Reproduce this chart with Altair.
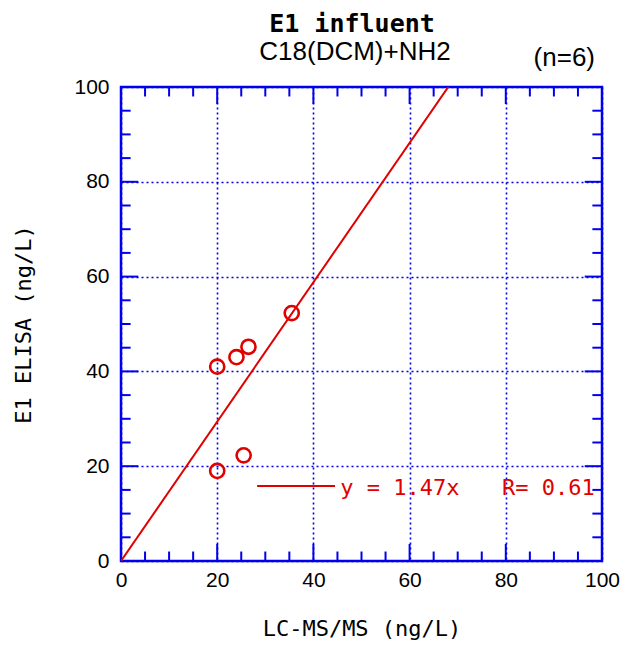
import altair as alt
import pandas as pd

# data
lcms = [20.0, 20.0, 24.0, 26.5, 25.5, 35.5]
elisa = [41.0, 19.0, 43.0, 45.2, 22.3, 52.3]
slope = 1.47
r_value = 0.61
minor_ticks = [5, 10, 15, 25, 30, 35, 45, 50, 55, 65, 70, 75, 85, 90, 95]
major_ticks = [20, 40, 60, 80]
axis_values = [0, 20, 40, 60, 80, 100]

BLUE = "#0000ee"
RED = "#e00000"
MONO = "DejaVu Sans Mono"
SANS = "Liberation Sans"

pts = pd.DataFrame({"x": lcms, "y": elisa})
fit = pd.DataFrame({"x": [0, 100], "y": [0, slope * 100]})

xs = alt.Scale(domain=[0, 100], nice=False, zero=False)
ys = alt.Scale(domain=[0, 100], nice=False, zero=False)

xax = alt.Axis(values=axis_values, grid=True, gridColor=BLUE, gridDash=[2, 3], gridWidth=1.6,
               ticks=False, tickSize=0, domain=False, labelFont=SANS, labelFontSize=21,
               labelColor="#000", labelPadding=8, title="LC-MS/MS (ng/L)", titleFont=MONO,
               titleFontSize=22, titleFontWeight="normal", titleColor="#000", titlePadding=28,
               labelFlush=False)
yax = alt.Axis(values=axis_values, grid=True, gridColor=BLUE, gridDash=[2, 3], gridWidth=1.6,
               ticks=False, tickSize=0, domain=False, labelFont=SANS, labelFontSize=21,
               labelColor="#000", labelPadding=12, title="E1 ELISA (ng/L)", titleFont=MONO,
               titleFontSize=22, titleFontWeight="normal", titleColor="#000", titlePadding=38,
               labelFlush=False)

base_axes = alt.Chart(pts).mark_point(opacity=0).encode(
    x=alt.X("x:Q", scale=xs, axis=xax), y=alt.Y("y:Q", scale=ys, axis=yax))

# inward ticks
Lmin, Lmaj = 2.0, 3.6
rows = []
for v in minor_ticks + major_ticks:
    L = Lmaj if v in major_ticks else Lmin
    rows.append({"x": v, "x2": v, "y": 0, "y2": L})
    rows.append({"x": v, "x2": v, "y": 100, "y2": 100 - L})
    rows.append({"x": 0, "x2": L, "y": v, "y2": v})
    rows.append({"x": 100, "x2": 100 - L, "y": v, "y2": v})
ticks_df = pd.DataFrame(rows)
ticks = alt.Chart(ticks_df).mark_rule(color=BLUE, strokeWidth=2).encode(
    x=alt.X("x:Q", scale=xs), x2="x2", y=alt.Y("y:Q", scale=ys), y2="y2")

line = alt.Chart(fit).mark_line(color=RED, strokeWidth=2, clip=True).encode(
    x=alt.X("x:Q", scale=xs), y=alt.Y("y:Q", scale=ys))

points = alt.Chart(pts).mark_point(shape="circle", filled=False, color=RED, size=200,
                                   strokeWidth=2.6, opacity=1).encode(
    x=alt.X("x:Q", scale=xs), y=alt.Y("y:Q", scale=ys))

leg_line = alt.Chart(pd.DataFrame({"x": [28.3], "x2": [44.5], "y": [15.8]})).mark_rule(
    color=RED, strokeWidth=2).encode(x=alt.X("x:Q", scale=xs), x2="x2", y=alt.Y("y:Q", scale=ys))

leg_text = alt.Chart(pd.DataFrame({
    "x": [45.6, 79.2], "y": [15.3, 15.3],
    "t": [f"y = {slope:.2f}x", f"R= {r_value:.2f}"]})).mark_text(
    align="left", baseline="middle", font=MONO, fontSize=22, color=RED).encode(
    x=alt.X("x:Q", scale=xs), y=alt.Y("y:Q", scale=ys), text="t:N")

t1 = alt.Chart(pd.DataFrame({"t": ["E1 influent"]})).mark_text(
    font=MONO, fontSize=25, fontWeight="bold", align="center", baseline="middle", color="#000").encode(
    x=alt.value(231), y=alt.value(-63), text="t:N")
t2 = alt.Chart(pd.DataFrame({"t": ["C18(DCM)+NH2"]})).mark_text(
    font=SANS, fontSize=26, align="center", baseline="middle", color="#000").encode(
    x=alt.value(234), y=alt.value(-35), text="t:N")
t3 = alt.Chart(pd.DataFrame({"t": ["(n=6)"]})).mark_text(
    font=SANS, fontSize=26, align="right", baseline="middle", color="#000").encode(
    x=alt.value(474), y=alt.value(-29), text="t:N")

chart = alt.layer(base_axes, line, ticks, points, leg_line, leg_text, t1, t2, t3).properties(
    width=481, height=474, autosize="none",
    padding={"left": 113, "top": 79, "right": 23, "bottom": 81},
    background="white",
).configure_view(stroke=BLUE, strokeWidth=2.5)

chart.save("out.html", embed_options={"renderer": "svg", "actions": False})
